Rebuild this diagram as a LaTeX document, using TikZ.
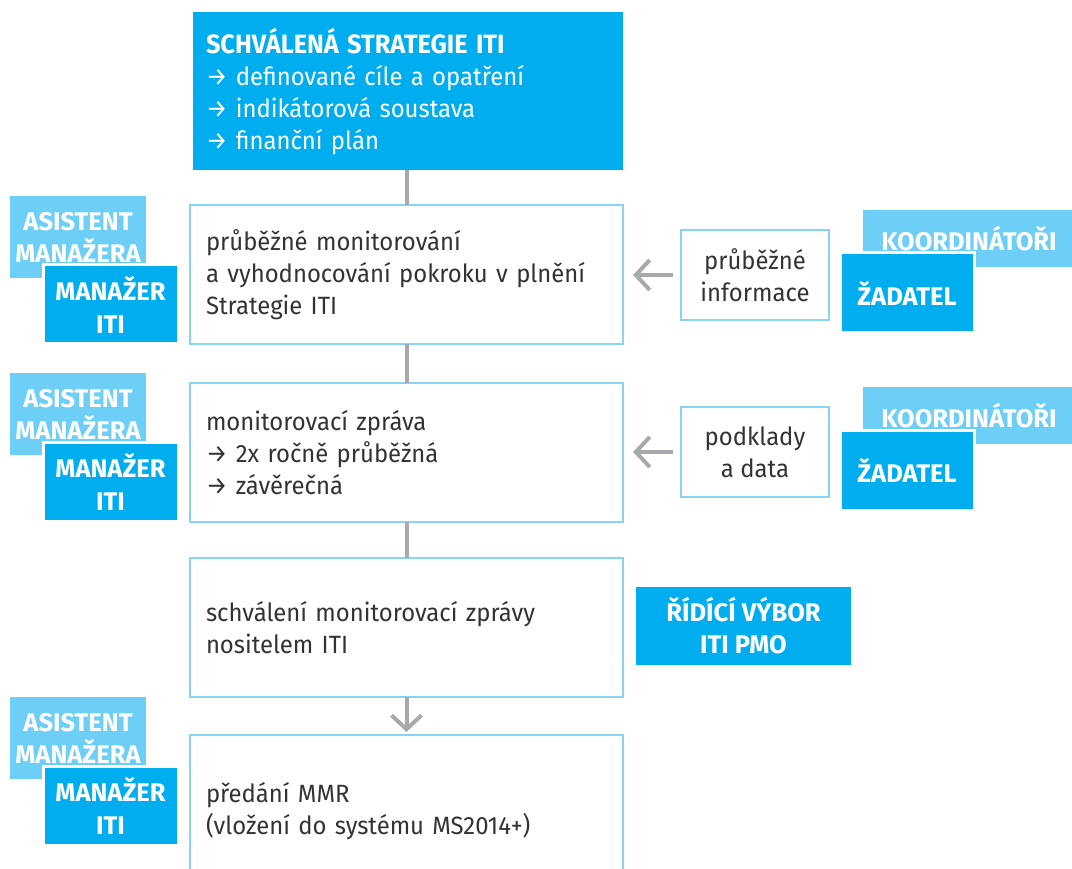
\documentclass[tikz,border=0pt]{standalone}
\usepackage{fontspec}
\setmainfont{Fira Sans}
\newfontfamily\bodyfont{Fira Sans}[FakeStretch=0.955]
\usetikzlibrary{arrows.meta}
\definecolor{itiblue}{RGB}{0,174,239}
\definecolor{itilight}{RGB}{109,207,246}
\definecolor{frameblue}{RGB}{135,212,246}
\definecolor{linkgrey}{RGB}{167,169,172}
\definecolor{bodytext}{RGB}{51,51,51}
\begin{document}
\begin{tikzpicture}[x=1pt,y=-1pt,
  every node/.style={anchor=north west, inner sep=0pt, outer sep=0pt},
  stage/.style={draw=frameblue, line width=2pt, fill=white, minimum width=433pt,
    minimum height=139pt, text width=401pt, inner xsep=16pt, align=left,
    text=bodytext, font=\bodyfont\fontsize{25}{32}\selectfont},
  source/.style={draw=frameblue, line width=2pt, fill=white, minimum width=148pt,
    minimum height=90pt, align=center, text=bodytext, font=\bodyfont\fontsize{25}{32}\selectfont},
  rolelight/.style={fill=itilight, text=white, align=center,
    font=\bfseries\fontsize{25.5}{32}\selectfont},
  roledark/.style={fill=itiblue, draw=white, line width=3pt, text=white, align=center,
    font=\bfseries\fontsize{25.5}{33}\selectfont},
  link/.style={draw=linkgrey, line width=4pt},
  tip/.style={-{Straight Barb[length=14pt, width=30pt]}}
]
\useasboundingbox (0,0) rectangle (1072,869);
\clip (0,0) rectangle (1072,869);

% approved strategy
\node[fill=itiblue, minimum width=430pt, minimum height=158pt, text width=404pt,
  inner xsep=13pt, align=left, text=white, font=\bodyfont\fontsize{25}{32}\selectfont]
  (strat) at (193,12)
  {{\bfseries\fontsize{26.5}{32}\selectfont SCHVÁLENÁ STRATEGIE ITI}\\
   → definované cíle a opatření\\
   → indikátorová soustava\\
   → finanční plán};

% process stages
\node[stage] (mon) at (190,205)
  {průběžné monitorování\\a vyhodnocování pokroku v plnění\\Strategie ITI};
\node[stage] (rep) at (190,383)
  {monitorovací zpráva\\→ 2x ročně průběžná\\→ závěrečná};
\node[stage] (appr) at (190,558)
  {schválení monitorovací zprávy\\nositelem ITI};
\node[stage, minimum height=152pt] (hand) at (190,735)
  {předání MMR\\(vložení do systému MS2014+)};

% connectors between stages
\draw[link] (strat.south -| mon.north) -- (mon.north);
\draw[link] (mon.south) -- (rep.north);
\draw[link] (rep.south) -- (appr.north);
\draw[link, tip, shorten >=3pt] (appr.south) -- (hand.north);

% roles on the left
\node[rolelight, minimum width=136pt, minimum height=82pt] (asist1) at (10,196) {ASISTENT\\MANAŽERA};
\node[roledark, minimum width=135pt, minimum height=79pt] (man1) at (43,265) {MANAŽER\\ITI};
\node[rolelight, minimum width=136pt, minimum height=82pt] (asist2) at (10,373) {ASISTENT\\MANAŽERA};
\node[roledark, minimum width=135pt, minimum height=79pt] (man2) at (43,442) {MANAŽER\\ITI};
\node[rolelight, minimum width=136pt, minimum height=82pt] (asist3) at (10,697) {ASISTENT\\MANAŽERA};
\node[roledark, minimum width=135pt, minimum height=79pt] (man3) at (43,766) {MANAŽER\\ITI};

% inputs on the right
\node[source] (info1) at (681,230) {průběžné\\informace};
\node[source] (info2) at (681,407) {podklady\\a data};
\node[rolelight, minimum width=212pt, minimum height=57pt] (koord1) at (863,210) {KOORDINÁTOŘI};
\node[roledark, minimum width=134pt, minimum height=80pt] (zad1) at (840,253) {ŽADATEL};
\node[rolelight, minimum width=212pt, minimum height=57pt] (koord2) at (863,387) {KOORDINÁTOŘI};
\node[roledark, minimum width=134pt, minimum height=80pt] (zad2) at (840,430) {ŽADATEL};
\node[fill=itiblue, minimum width=215pt, minimum height=78pt, text=white, align=center,
  font=\bfseries\fontsize{25.5}{32}\selectfont] (rid) at (636,587) {ŘÍDÍCÍ VÝBOR\\ITI PMO};

\draw[link, tip, shorten <=8pt, shorten >=10pt] (info1.west) -- (mon.east |- info1.west);
\draw[link, tip, shorten <=8pt, shorten >=10pt] (info2.west) -- (rep.east |- info2.west);
\end{tikzpicture}
\end{document}
